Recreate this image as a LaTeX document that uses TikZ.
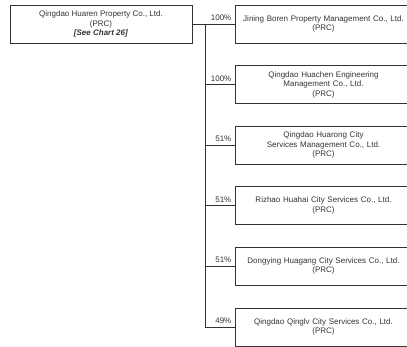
\documentclass[tikz,border=0pt]{standalone}
\usepackage{fontspec}
\setmainfont{Liberation Sans}
\definecolor{ink}{HTML}{333333}
\begin{document}
\begin{tikzpicture}[x=1pt,y=-1pt,
  box/.style={draw=ink,line width=0.9pt,rectangle,minimum height=38pt,inner sep=1pt,
    align=center,text=ink,font=\fontsize{8}{9.5}\selectfont},
  pbox/.style={box,minimum width=182pt},
  cbox/.style={box,minimum width=177pt,text width=170pt},
  pct/.style={anchor=south east,inner sep=0pt,text=ink,font=\fontsize{8}{9.5}\selectfont},
  link/.style={draw=ink,line width=0.9pt}]
\useasboundingbox (0,0) rectangle (407,347);
\begin{scope}
\clip (0,0) rectangle (407,347);
\node[pbox] (p) at (101,24) {Qingdao Huaren Property Co., Ltd.\\(PRC)\\\textbf{\textit{[See Chart 26]}}};
\node[cbox] (c1) at (323.5,24) {Jining Boren Property Management Co., Ltd.\\(PRC)};
\node[cbox] (c2) at (323.5,84.5) {Qingdao Huachen Engineering\\Management Co., Ltd.\\(PRC)};
\node[cbox] (c3) at (323.5,145) {Qingdao Huarong City\\Services Management Co., Ltd.\\(PRC)};
\node[cbox] (c4) at (323.5,205.5) {Rizhao Huahai City Services Co., Ltd.\\(PRC)};
\node[cbox] (c5) at (323.5,266) {Dongying Huagang City Services Co., Ltd.\\(PRC)};
\node[cbox] (c6) at (323.5,327) {Qingdao Qinglv City Services Co., Ltd.\\(PRC)};
\coordinate (j) at (205,24);
\coordinate (e) at (205,327);
\draw[link] (p.east) -- (c1.west);
\draw[link] (j) -- (e);
\foreach \c/\v in {c1/100\%,c2/100\%,c3/51\%,c4/51\%,c5/51\%,c6/49\%}{
  \draw[link] (j |- \c.west) -- (\c.west);
  \node[pct] at ([xshift=-3pt,yshift=3pt]\c.west) {\v};
}
\end{scope}
\end{tikzpicture}
\end{document}
